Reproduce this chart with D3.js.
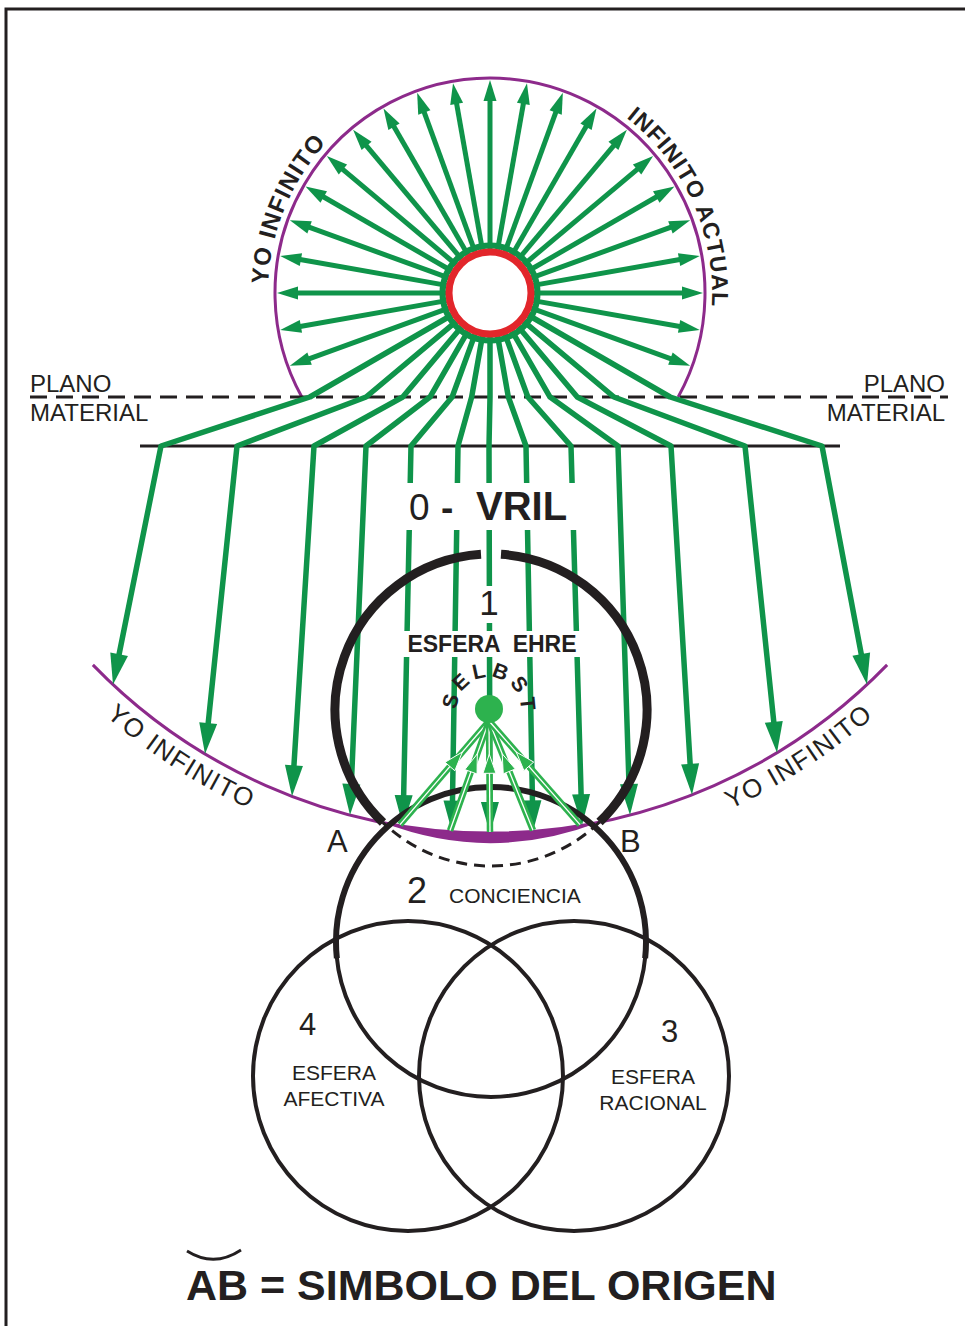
<!DOCTYPE html>
<html>
<head>
<meta charset="utf-8">
<script src="https://cdn.jsdelivr.net/npm/d3@7"></script>
<style>
  body { margin: 0; background: #fff; }
  svg { display: block; }
  text { font-family: "Liberation Sans", Arial, sans-serif; fill: #231f20; }
</style>
</head>
<body>
<div id="chart"></div>
<script>
// Diagram data
const upRayAngles = [-110, -100, -90, -80, -70, -60, -50, -40, -30, -20, -10, 0, 10, 20, 30, 40, 50, 60, 70, 80, 90, 100, 110];
const downRayAngles = [120, 130, 140, 150, 160, 170, 180, 190, 200, 210, 220, 230, 240];
const groundX = [822, 745, 671, 618, 571, 526, 489, 458, 411, 366, 314, 237, 161];
const tipX = [867, 777, 692, 630, 582, 533, 490, 452, 403, 350, 292, 205, 113];
const selbstTipX = [400, 450, 490, 533, 580];
const planoLabels = ["PLANO", "MATERIAL"];
const sphereLabels = [
  { num: "4", lines: ["ESFERA", "AFECTIVA"] },
  { num: "3", lines: ["ESFERA", "RACIONAL"] }
];

const W = 965, H = 1326;
const GREEN = "#0f944a", LIGHT = "#2db24e", PURPLE = "#8d2a8b", RED = "#e2262b", INK = "#231f20";

const svg = d3.select("#chart").append("svg")
  .attr("width", W).attr("height", H)
  .attr("viewBox", [0, 0, W, H]);
const defs = svg.append("defs");

const rad = d => d * Math.PI / 180;
// angle in degrees clockwise from 12 o'clock
const polar = (c, r, deg) => [c.x + r * Math.sin(rad(deg)), c.y - r * Math.cos(rad(deg))];
function arcPath(c, r, a0, a1, ccw) {
  const p = d3.path();
  p.arc(c.x, c.y, r, rad(a0 - 90), rad(a1 - 90), !!ccw);
  return p.toString();
}
function head(g, tip, from, len, wid, fill, stroke) {
  const dx = tip[0] - from[0], dy = tip[1] - from[1], L = Math.hypot(dx, dy);
  const ux = dx / L, uy = dy / L, px = -uy, py = ux;
  const bx = tip[0] - ux * len, by = tip[1] - uy * len;
  g.append("path")
    .attr("d", d3.line()([tip, [bx + px * wid / 2, by + py * wid / 2], [bx - px * wid / 2, by - py * wid / 2]]) + "Z")
    .attr("fill", fill)
    .attr("stroke", stroke || "none")
    .attr("stroke-width", stroke ? 1 : 0);
}
const along = (a, b, t) => [a[0] + (b[0] - a[0]) * t, a[1] + (b[1] - a[1]) * t];

// geometry
const hub = { x: 490, y: 293 };           // red ring centre
const DASH_Y = 397, GROUND_Y = 446;
const low = { x: 490, y: 280, r: 553 };   // lower purple arc
const arcY = x => low.y + Math.sqrt(low.r * low.r - (x - low.x) ** 2);
const c1 = { x: 491, y: 710, r: 156 };
const c2 = { x: 491, y: 942, r: 155 };
const c3 = { x: 574, y: 1076, r: 155 };
const c4 = { x: 408, y: 1076, r: 155 };
const dot = { x: 489, y: 709, r: 14 };

// border (top and left only visible)
svg.append("path").attr("d", `M6,${H} V9 H${W}`)
  .attr("fill", "none").attr("stroke", INK).attr("stroke-width", 3);

// upper purple circle, cut at the material plane
const topR = 215;
const cutA = Math.acos(-(DASH_Y - hub.y) / topR) * 180 / Math.PI;
svg.append("path").attr("d", arcPath(hub, topR, -cutA, cutA))
  .attr("fill", "none").attr("stroke", PURPLE).attr("stroke-width", 3);

// plane lines
svg.append("line").attr("x1", 30).attr("x2", 948).attr("y1", DASH_Y).attr("y2", DASH_Y)
  .attr("stroke", INK).attr("stroke-width", 3).attr("stroke-dasharray", "17 9");
svg.append("line").attr("x1", 140).attr("x2", 840).attr("y1", GROUND_Y).attr("y2", GROUND_Y)
  .attr("stroke", INK).attr("stroke-width", 3);

// lower purple arc
const lowHalf = 45.9;
svg.append("path").attr("d", arcPath(low, low.r, 180 - lowHalf, 180 + lowHalf))
  .attr("fill", "none").attr("stroke", PURPLE).attr("stroke-width", 3);

// green rays
const rays = svg.append("g");
upRayAngles.forEach(a => {
  const p0 = polar(hub, 44, a), tip = polar(hub, 213, a), end = polar(hub, 200, a);
  rays.append("line")
    .attr("x1", p0[0]).attr("y1", p0[1]).attr("x2", end[0]).attr("y2", end[1])
    .attr("stroke", GREEN).attr("stroke-width", 5);
  head(rays, tip, p0, 21, 13, GREEN);
});
downRayAngles.forEach((a, i) => {
  const p0 = polar(hub, 44, a);
  const t = (DASH_Y - hub.y) / -Math.cos(rad(a));
  const p1 = polar(hub, t, a);
  const p2 = [groundX[i], GROUND_Y];
  const tip = [tipX[i], arcY(tipX[i])];
  const p3 = along(tip, p2, 15 / Math.hypot(tip[0] - p2[0], tip[1] - p2[1]));
  rays.append("path").attr("d", d3.line()([p0, p1, p2, p3]))
    .attr("fill", "none").attr("stroke", GREEN).attr("stroke-width", 5.5)
    .attr("stroke-linejoin", "round");
  head(rays, tip, p2, 31, 18, GREEN);
});

// ring
svg.append("circle").attr("cx", hub.x).attr("cy", hub.y).attr("r", 47.5)
  .attr("fill", "none").attr("stroke", GREEN).attr("stroke-width", 6);
svg.append("circle").attr("cx", hub.x).attr("cy", hub.y).attr("r", 41)
  .attr("fill", "#fff").attr("stroke", RED).attr("stroke-width", 7);

// white knock-outs behind labels crossing the rays
[[396, 483, 194, 47], [478, 586, 23, 37], [400, 631, 186, 26]].forEach(([x, y, w, h]) =>
  svg.append("rect").attr("x", x).attr("y", y).attr("width", w).attr("height", h).attr("fill", "#fff"));

// 0 - VRIL
svg.append("text").attr("x", 409).attr("y", 520).attr("font-size", 37).text("0");
svg.append("text").attr("x", 441).attr("y", 520).attr("font-size", 37).attr("font-weight", "bold").text("-");
svg.append("text").attr("x", 476).attr("y", 520).attr("font-size", 40).attr("font-weight", "bold").text("VRIL");

// intersections A, B of circle 1 and lower arc
function intersect(p, q) {
  const dx = q.x - p.x, dy = q.y - p.y, d = Math.hypot(dx, dy);
  const a = (p.r * p.r - q.r * q.r + d * d) / (2 * d);
  const h = Math.sqrt(p.r * p.r - a * a);
  const mx = p.x + a * dx / d, my = p.y + a * dy / d;
  return [[mx + h * dy / d, my - h * dx / d], [mx - h * dy / d, my + h * dx / d]].sort((u, v) => u[0] - v[0]);
}
const [A, B] = intersect(c1, low);
const angOf = (c, p) => Math.atan2(p[0] - c.x, -(p[1] - c.y)) * 180 / Math.PI;
const angB = angOf(c1, B), angA = 360 + angOf(c1, A);

// spheres 4, 3, 2
const circ = svg.append("g").attr("fill", "none").attr("stroke", INK);
[c4, c3].forEach(c => circ.append("circle").attr("cx", c.x).attr("cy", c.y).attr("r", c.r).attr("stroke-width", 4));
circ.append("path").attr("d", arcPath(c2, c2.r, 95, 265)).attr("stroke-width", 4);
circ.append("path").attr("d", arcPath(c2, c2.r, -96, 96)).attr("stroke-width", 6);

// origin lens A-B
const lowA = angOf(low, A), lowB = angOf(low, B);
const lp = d3.path();
lp.arc(low.x, low.y, low.r, rad(360 + lowA - 90), rad(lowB - 90), true);
lp.quadraticCurveTo(491, 864, A[0], A[1]);
lp.closePath();
svg.append("path").attr("d", lp.toString()).attr("fill", PURPLE);

// sphere 1
const gap = Math.asin(10 / c1.r) * 180 / Math.PI;
circ.append("path").attr("d", arcPath(c1, c1.r, gap, angB)).attr("stroke-width", 9);
circ.append("path").attr("d", arcPath(c1, c1.r, angA, 360 - gap)).attr("stroke-width", 9);
circ.append("path").attr("d", arcPath(c1, c1.r, angB, angA))
  .attr("stroke-width", 3).attr("stroke-dasharray", "11 7");
circ.raise();

// SELBST rays
const selbst = svg.append("g");
const from = [dot.x, dot.y + 12];
selbstTipX.forEach(x => {
  const end = [x, arcY(x) - 1];
  selbst.append("line").attr("x1", from[0]).attr("y1", from[1]).attr("x2", end[0]).attr("y2", end[1])
    .attr("stroke", LIGHT).attr("stroke-width", 6.5);
  selbst.append("line").attr("x1", from[0]).attr("y1", from[1]).attr("x2", end[0]).attr("y2", end[1])
    .attr("stroke", "#fff").attr("stroke-width", 1.3);
  const t = along(from, end, 0.3);
  head(selbst, t, end, 19, 13, LIGHT, "#fff");
});
svg.append("circle").attr("cx", dot.x).attr("cy", dot.y).attr("r", dot.r).attr("fill", LIGHT);

// curved labels
function curved(id, d, txt, size, weight, spacing) {
  defs.append("path").attr("id", id).attr("d", d);
  return svg.append("text").attr("font-size", size).attr("font-weight", weight)
    .attr("letter-spacing", spacing)
    .append("textPath").attr("href", "#" + id)
    .attr("startOffset", "50%").attr("text-anchor", "middle").text(txt);
}
curved("tl", arcPath(hub, 222, -117.5, -17.5), "YO INFINITO", 24, "bold", 1.2);
curved("tr", arcPath(hub, 222, 15.8, 115.8), "INFINITO ACTUAL", 23, "bold", 1.2);
curved("bl", arcPath(low, 581, 252.9, 172.9, true), "YO INFINITO", 26, "normal", 1.5);
curved("br", arcPath(low, 581, 187.1, 107.1, true), "YO INFINITO", 26, "normal", 1.5);
curved("sb", arcPath(dot, 32, -146, 154), "SELBST", 21, "bold", 4);

// plane labels
planoLabels.forEach((s, i) => {
  svg.append("text").attr("x", 30).attr("y", 392 + i * 29).attr("font-size", 24).text(s);
  svg.append("text").attr("x", 945).attr("y", 392 + i * 29).attr("font-size", 24)
    .attr("text-anchor", "end").text(s);
});

// sphere labels
svg.append("text").attr("x", 489).attr("y", 615).attr("font-size", 35).attr("text-anchor", "middle").text("1");
svg.append("text").attr("x", 492).attr("y", 652).attr("font-size", 23).attr("font-weight", "bold")
  .attr("text-anchor", "middle").attr("xml:space", "preserve").style("white-space", "pre").text("ESFERA  EHRE");
svg.append("text").attr("x", 327).attr("y", 852).attr("font-size", 31).text("A");
svg.append("text").attr("x", 620).attr("y", 852).attr("font-size", 31).text("B");
svg.append("text").attr("x", 407).attr("y", 903).attr("font-size", 36).text("2");
svg.append("text").attr("x", 449).attr("y", 903).attr("font-size", 21).text("CONCIENCIA");

const spherePos = [{ nx: 299, ny: 1035, cx: 334, by: 1080 }, { nx: 661, ny: 1042, cx: 653, by: 1084 }];
sphereLabels.forEach((s, i) => {
  const p = spherePos[i];
  svg.append("text").attr("x", p.nx).attr("y", p.ny).attr("font-size", 31).text(s.num);
  s.lines.forEach((l, j) => svg.append("text").attr("x", p.cx).attr("y", p.by + j * 26)
    .attr("font-size", 21).attr("text-anchor", "middle").text(l));
});

// footer
svg.append("path").attr("d", "M187,1251 Q214,1268 241,1250")
  .attr("fill", "none").attr("stroke", INK).attr("stroke-width", 2.8);
svg.append("text").attr("x", 186).attr("y", 1300).attr("font-size", 43).attr("font-weight", "bold")
  .text("AB = SIMBOLO DEL ORIGEN");
</script>
</body>
</html>
